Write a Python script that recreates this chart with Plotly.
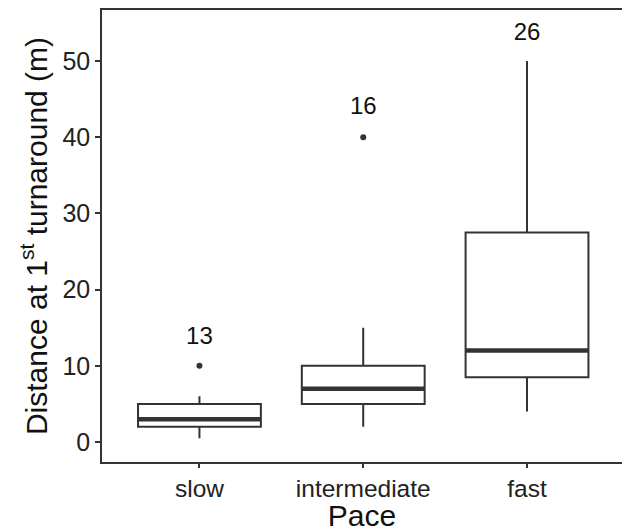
import plotly.graph_objects as go

categories = ["slow", "intermediate", "fast"]
lower_whisker = [0.5, 2, 4]
q1 = [2, 5, 8.5]
median = [3, 7, 12]
q3 = [5, 10, 27.5]
upper_whisker = [6, 15, 50]
outliers = [[10], [40], []]
counts = [13, 16, 26]
label_y = [13.7, 43.8, 53.5]

pos = list(range(len(categories)))
box_w = 0.75
line_col = "#333333"
font_fam = "Liberation Sans, Arial, sans-serif"

fig = go.Figure()
fig.add_trace(go.Box(
    x=pos, q1=q1, median=median, q3=q3,
    lowerfence=lower_whisker, upperfence=upper_whisker,
    width=box_w, whiskerwidth=0, fillcolor="white",
    line=dict(color=line_col, width=2), boxpoints=False,
    showlegend=False, hoverinfo="skip"))

# thick medians
mx, my = [], []
for p, m in zip(pos, median):
    mx += [p - box_w / 2, p + box_w / 2, None]
    my += [m, m, None]
fig.add_trace(go.Scatter(x=mx, y=my, mode="lines",
                         line=dict(color=line_col, width=4.5), showlegend=False))

# outliers
ox, oy = [], []
for p, outs in zip(pos, outliers):
    for o in outs:
        ox.append(p)
        oy.append(o)
fig.add_trace(go.Scatter(x=ox, y=oy, mode="markers",
                         marker=dict(color=line_col, size=6), showlegend=False))

# counts
fig.add_trace(go.Scatter(x=pos, y=label_y, mode="text", text=[str(c) for c in counts],
                         textfont=dict(size=24, color="#111111", family=font_fam),
                         showlegend=False))

fig.update_layout(
    width=622, height=532,
    margin=dict(l=102, r=0, t=10, b=70),
    plot_bgcolor="white", paper_bgcolor="white",
    font=dict(family=font_fam, color="#222222"),
    xaxis=dict(range=[-0.595, 2.58], tickvals=pos, ticktext=categories,
               showline=True, linecolor=line_col, linewidth=1.5, mirror=True,
               ticks="outside", ticklen=4, tickcolor=line_col, tickwidth=1.5,
               showgrid=False, zeroline=False,
               tickfont=dict(size=24.5, color="#222222"),
               title=dict(text="Pace", font=dict(size=30, color="#111111"), standoff=9)),
    yaxis=dict(range=[-2.62, 56.7], tickvals=[0, 10, 20, 30, 40, 50],
               showline=True, linecolor=line_col, linewidth=1.5,
               ticks="outside", ticklen=5, tickcolor=line_col, tickwidth=1.5,
               showgrid=False, zeroline=False,
               tickfont=dict(size=25, color="#222222"),
               title=dict(text="Distance at 1<sup>st</sup> turnaround (m)",
                          font=dict(size=30, color="#111111"), standoff=6)),
)

fig.write_html(
    "out.html",
    config={"displayModeBar": False},
    post_script="document.body.style.margin='0';document.body.style.overflow='hidden';",
)
